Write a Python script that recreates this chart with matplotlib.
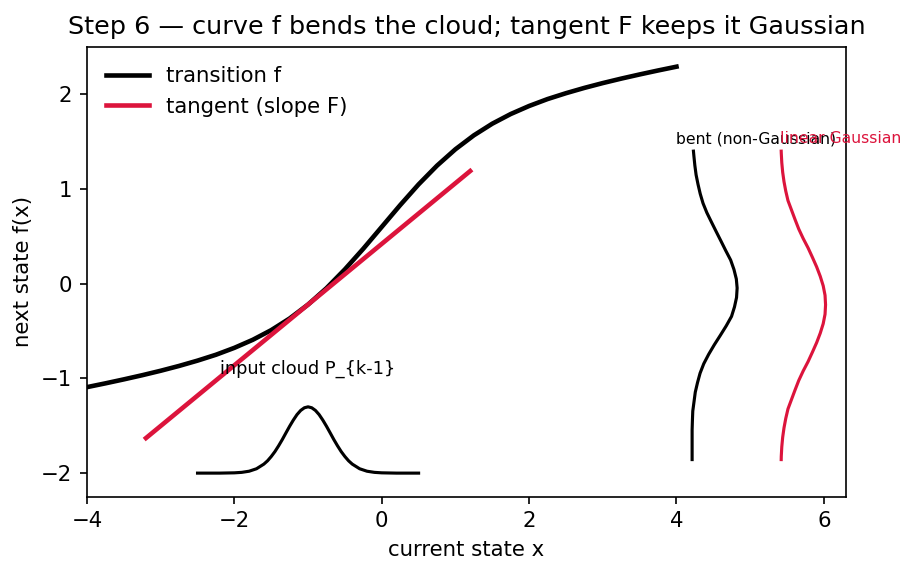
import matplotlib
matplotlib.use("Agg")
import matplotlib.pyplot as plt

# transition curve f(x)
curve_x = [-4.0, -3.75, -3.5, -3.25, -3.0, -2.75, -2.5, -2.25, -2.0, -1.75, -1.5,
           -1.25, -1.0, -0.75, -0.5, -0.25, 0.0, 0.25, 0.5, 0.75, 1.0, 1.25,
           1.5, 1.75, 2.0, 2.25, 2.5, 2.75, 3.0, 3.25, 3.5, 3.75, 4.0]
curve_y = [-1.092, -1.052, -1.010, -0.966, -0.919, -0.868, -0.812, -0.750, -0.677, -0.592, -0.490,
           -0.367, -0.220, -0.047, 0.152, 0.370, 0.600, 0.830, 1.049, 1.247, 1.420, 1.567,
           1.690, 1.792, 1.877, 1.950, 2.012, 2.068, 2.119, 2.166, 2.210, 2.252, 2.292]

# tangent line (slope F) at x0 = -1
tangent_x = [-3.2, 1.2]
tangent_y = [-1.63, 1.19]

# input cloud P_{k-1} drawn along the x axis
cloud_x = [-2.5, -2.2, -2.0, -1.9, -1.8, -1.7, -1.6, -1.55, -1.5, -1.45, -1.4, -1.35,
           -1.3, -1.25, -1.2, -1.15, -1.1, -1.05, -1.0, -0.95, -0.9, -0.85, -0.8,
           -0.75, -0.7, -0.65, -0.6, -0.55, -0.5, -0.45, -0.4, -0.3, -0.2, -0.1,
           0.0, 0.2, 0.5]
cloud_y = [-2.000, -2.000, -1.997, -1.992, -1.980, -1.954, -1.905, -1.870, -1.825, -1.773, -1.712, -1.646,
           -1.575, -1.505, -1.440, -1.382, -1.338, -1.310, -1.300, -1.310, -1.338, -1.382, -1.440,
           -1.505, -1.575, -1.646, -1.712, -1.773, -1.825, -1.870, -1.905, -1.954, -1.980, -1.992,
           -1.997, -2.000, -2.000]

# bent (non-Gaussian) output cloud, drawn sideways
bent_y = [1.40, 1.35, 1.25, 1.15, 1.05, 0.95, 0.85, 0.75, 0.65, 0.55, 0.45, 0.35,
          0.25, 0.15, 0.05, -0.045, -0.145, -0.245, -0.345, -0.445, -0.545, -0.645,
          -0.745, -0.845, -0.945, -1.045, -1.145, -1.245, -1.345, -1.445, -1.545, -1.857]
bent_x = [4.230, 4.236, 4.249, 4.266, 4.292, 4.322, 4.360, 4.412, 4.475, 4.539, 4.604, 4.668,
          4.735, 4.780, 4.812, 4.823, 4.815, 4.787, 4.747, 4.675, 4.595, 4.513,
          4.437, 4.370, 4.320, 4.285, 4.255, 4.238, 4.221, 4.216, 4.212, 4.212]

# linear Gaussian output cloud, drawn sideways
lin_y = [1.40, 1.378, 1.278, 1.178, 1.078, 0.978, 0.878, 0.778, 0.678, 0.578, 0.478,
         0.378, 0.278, 0.178, 0.078, -0.022, -0.122, -0.222, -0.322, -0.422, -0.522,
         -0.622, -0.722, -0.822, -0.922, -1.022, -1.122, -1.222, -1.322, -1.422,
         -1.522, -1.622, -1.722, -1.822, -1.857]
lin_x = [5.421, 5.422, 5.429, 5.441, 5.459, 5.483, 5.513, 5.561, 5.609, 5.659, 5.719,
         5.786, 5.845, 5.902, 5.951, 5.991, 6.016, 6.023, 6.016, 5.991, 5.951,
         5.902, 5.845, 5.786, 5.719, 5.659, 5.609, 5.561, 5.513, 5.483,
         5.459, 5.441, 5.429, 5.422, 5.421]

red = "crimson"
plt.rcParams["font.size"] = 10.2

fig = plt.figure(figsize=(6.08, 3.82), dpi=150)
ax = fig.add_axes([0.0954, 0.133, 0.8322, 0.785])

ax.plot(curve_x, curve_y, color="black", lw=2.2, label="transition f")
ax.plot(tangent_x, tangent_y, color=red, lw=2.2, label="tangent (slope F)")
ax.plot(cloud_x, cloud_y, color="black", lw=1.5)
ax.plot(bent_x, bent_y, color="black", lw=1.5)
ax.plot(lin_x, lin_y, color=red, lw=1.5)

ax.text(-2.2, -1.0, "input cloud P_{k-1}", fontsize=8.5, va="bottom")
ax.text(4.0, 1.45, "bent (non-Gaussian)", fontsize=7.5, va="bottom")
ax.text(5.4, 1.45, "linear Gaussian", fontsize=7.5, va="bottom", color=red)

ax.set_xlim(-4, 6.3)
ax.set_ylim(-2.25, 2.5)
ax.set_xticks([-4, -2, 0, 2, 4, 6])
ax.set_yticks([-2, -1, 0, 1, 2])
ax.set_xlabel("current state x")
ax.set_ylabel("next state f(x)")
ax.set_title("Step 6 — curve f bends the cloud; tangent F keeps it Gaussian")
ax.legend(loc="upper left", frameon=False)

fig.savefig("out.png", dpi=150)
